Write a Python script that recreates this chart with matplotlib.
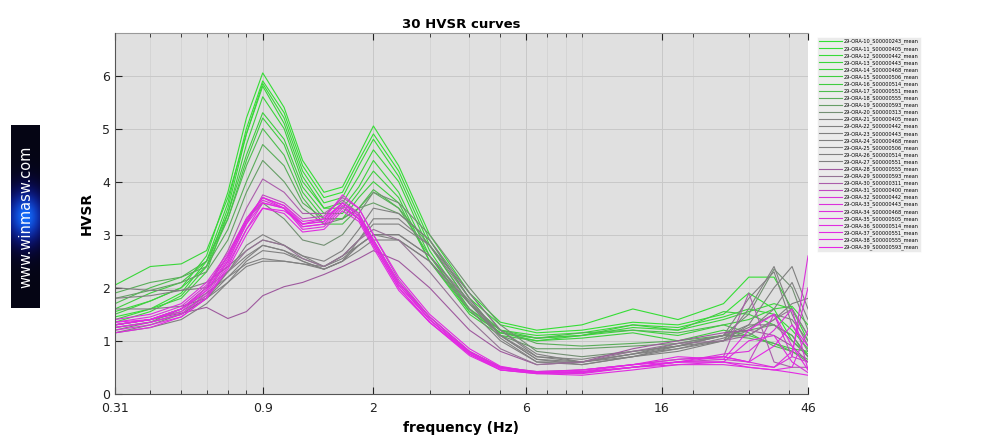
import numpy as np
import matplotlib
matplotlib.use("Agg")
import matplotlib.pyplot as plt

# frequency grid (Hz)
freq = [0.31, 0.4, 0.5, 0.6, 0.7, 0.8, 0.9, 1.05, 1.2, 1.4, 1.6, 1.8, 2.0, 2.4, 3, 4, 5, 6.5, 9, 13, 18,
        25, 30, 36, 41, 46]

# green group
g0 = [1.45, 1.6, 1.9, 2.5, 3.6, 5.0, 5.9, 5.3, 4.3, 3.7, 3.8, 4.4, 4.9, 4.2, 2.9, 1.8, 1.3, 1.15, 1.2, 1.35, 1.3, 1.5, 1.9, 1.6, 1.0, 0.75]
g1 = [1.55, 1.75, 2.0, 2.6, 3.8, 5.2, 6.05, 5.4, 4.4, 3.8, 3.9, 4.5, 5.05, 4.3, 3.0, 1.9, 1.35, 1.2, 1.3, 1.6, 1.4, 1.7, 2.2, 2.2, 1.6, 1.0]
g2 = [1.35, 1.55, 1.85, 2.4, 3.5, 4.9, 5.85, 5.2, 4.2, 3.6, 3.7, 4.3, 4.8, 4.1, 2.8, 1.7, 1.2, 1.1, 1.15, 1.3, 1.25, 1.45, 1.6, 1.5, 1.2, 0.85]
g3 = [2.05, 2.4, 2.45, 2.7, 3.7, 4.9, 5.8, 5.1, 4.1, 3.5, 3.6, 4.1, 4.6, 4.0, 2.7, 1.6, 1.15, 1.0, 1.1, 1.25, 1.2, 1.4, 1.55, 1.7, 1.6, 1.1]
g4 = [1.4, 1.6, 1.8, 2.3, 3.4, 4.7, 5.6, 5.0, 4.0, 3.5, 3.5, 3.9, 4.4, 3.8, 2.6, 1.55, 1.15, 1.05, 1.1, 1.2, 1.1, 1.3, 1.4, 1.6, 1.65, 1.3]
g5 = [1.6, 1.9, 2.1, 2.5, 3.4, 4.5, 5.3, 4.8, 3.9, 3.4, 3.4, 3.8, 4.2, 3.7, 2.5, 1.5, 1.1, 1.0, 1.05, 1.15, 1.0, 1.2, 1.1, 0.95, 0.85, 0.8]
g6 = [1.5, 1.75, 2.0, 2.4, 3.3, 4.4, 5.2, 4.7, 3.8, 3.3, 3.3, 3.7, 4.0, 3.6, 2.5, 1.55, 1.15, 1.05, 1.1, 1.3, 1.2, 1.55, 1.5, 1.3, 1.1, 0.7]
g7 = [1.7, 2.0, 2.2, 2.5, 3.3, 4.3, 5.0, 4.5, 3.7, 3.2, 3.2, 3.5, 3.85, 3.5, 2.6, 1.6, 1.2, 1.05, 1.15, 1.2, 1.15, 1.3, 1.15, 0.9, 0.8, 0.65]
g8 = [1.9, 2.1, 2.2, 2.4, 3.1, 4.0, 4.7, 4.3, 3.6, 3.3, 3.3, 3.5, 3.8, 3.5, 2.8, 1.7, 1.2, 0.95, 0.9, 0.95, 1.0, 1.1, 1.05, 0.95, 0.8, 0.6]
g9 = [1.8, 1.95, 2.1, 2.3, 2.9, 3.8, 4.4, 4.0, 3.5, 3.2, 3.3, 3.5, 3.6, 3.4, 2.9, 1.8, 1.1, 0.85, 0.85, 0.9, 0.95, 1.1, 1.2, 1.3, 1.1, 0.7]

# gray group
a10 = [1.2, 1.35, 1.6, 2.0, 2.6, 3.3, 3.6, 3.3, 2.9, 2.8, 3.0, 3.4, 3.8, 3.6, 3.0, 2.0, 1.3, 0.8, 0.7, 0.8, 0.9, 1.1, 1.5, 2.35, 2.0, 1.2]
a11 = [1.15, 1.3, 1.5, 1.8, 2.3, 2.8, 3.0, 2.8, 2.6, 2.5, 2.7, 3.1, 3.5, 3.4, 2.9, 1.9, 1.2, 0.7, 0.65, 0.8, 0.9, 1.0, 1.3, 2.0, 2.4, 1.6]
a12 = [1.8, 1.85, 1.95, 2.1, 2.4, 2.7, 2.9, 2.8, 2.6, 2.4, 2.6, 2.9, 3.2, 3.2, 2.8, 1.9, 1.2, 0.75, 0.6, 0.75, 0.85, 1.0, 1.6, 2.4, 1.5, 0.9]
a13 = [2.0, 1.95, 1.95, 2.0, 2.3, 2.6, 2.8, 2.7, 2.5, 2.35, 2.5, 2.8, 3.0, 3.0, 2.6, 1.7, 1.1, 0.7, 0.6, 0.7, 0.8, 1.0, 1.2, 1.6, 2.1, 1.4]
a14 = [1.15, 1.25, 1.4, 1.7, 2.1, 2.5, 2.7, 2.65, 2.5, 2.35, 2.5, 2.9, 3.3, 3.3, 2.8, 1.8, 1.1, 0.65, 0.55, 0.7, 0.85, 1.05, 1.25, 1.5, 1.4, 1.0]
a15 = [1.25, 1.35, 1.5, 1.8, 2.2, 2.55, 2.8, 2.7, 2.55, 2.4, 2.55, 2.8, 3.0, 2.9, 2.5, 1.6, 1.0, 0.6, 0.6, 0.75, 0.95, 1.1, 1.8, 2.3, 1.3, 0.8]
a16 = [1.3, 1.4, 1.6, 1.9, 2.2, 2.45, 2.55, 2.5, 2.45, 2.35, 2.5, 2.7, 2.9, 2.9, 2.5, 1.7, 1.05, 0.6, 0.55, 0.7, 0.9, 1.1, 1.1, 1.4, 1.7, 1.8]
a17 = [1.6, 1.6, 1.65, 1.8, 2.1, 2.4, 2.5, 2.5, 2.45, 2.4, 2.6, 2.8, 3.0, 3.0, 2.6, 1.75, 1.1, 0.65, 0.6, 0.75, 0.9, 1.1, 1.3, 1.3, 1.0, 0.7]
a18 = [1.3, 1.4, 1.52, 1.63, 1.42, 1.55, 1.85, 2.02, 2.1, 2.25, 2.4, 2.55, 2.7, 2.5, 2.0, 1.2, 0.8, 0.55, 0.6, 0.85, 1.0, 1.15, 1.2, 1.1, 0.9, 0.6]
a19 = [1.3, 1.4, 1.55, 1.85, 2.3, 2.7, 2.9, 2.8, 2.55, 2.4, 2.6, 2.9, 3.1, 2.9, 2.3, 1.4, 0.85, 0.55, 0.6, 0.8, 0.95, 1.0, 1.1, 1.4, 1.6, 1.1]

# magenta group
m20 = [1.3, 1.4, 1.6, 2.0, 2.7, 3.5, 4.05, 3.8, 3.4, 3.4, 3.65, 3.4, 2.9, 2.1, 1.45, 0.8, 0.5, 0.42, 0.45, 0.55, 0.65, 0.7, 1.9, 0.6, 0.5, 0.5]
m21 = [1.25, 1.35, 1.5, 1.9, 2.5, 3.2, 3.75, 3.6, 3.3, 3.35, 3.7, 3.5, 3.0, 2.15, 1.45, 0.8, 0.5, 0.4, 0.4, 0.5, 0.6, 0.65, 0.6, 1.5, 0.7, 0.6]
m22 = [1.35, 1.45, 1.65, 2.05, 2.6, 3.25, 3.7, 3.55, 3.2, 3.3, 3.6, 3.35, 2.85, 2.05, 1.4, 0.75, 0.48, 0.4, 0.42, 0.5, 0.6, 0.75, 0.8, 1.2, 1.6, 0.45]
m23 = [1.2, 1.3, 1.45, 1.8, 2.4, 3.1, 3.6, 3.5, 3.2, 3.25, 3.6, 3.4, 2.9, 2.1, 1.45, 0.8, 0.5, 0.4, 0.38, 0.5, 0.55, 0.6, 0.55, 0.5, 0.7, 2.6]
m24 = [1.3, 1.4, 1.55, 1.95, 2.55, 3.25, 3.65, 3.5, 3.15, 3.2, 3.55, 3.3, 2.8, 2.0, 1.35, 0.75, 0.45, 0.38, 0.4, 0.5, 0.6, 0.6, 1.0, 1.1, 0.6, 0.4]
m25 = [1.4, 1.5, 1.7, 2.1, 2.65, 3.3, 3.7, 3.5, 3.1, 3.15, 3.5, 3.3, 2.85, 2.05, 1.4, 0.78, 0.5, 0.42, 0.45, 0.55, 0.65, 0.7, 0.6, 0.5, 0.8, 2.0]
m26 = [1.25, 1.35, 1.5, 1.85, 2.45, 3.1, 3.5, 3.4, 3.05, 3.1, 3.45, 3.25, 2.75, 1.95, 1.35, 0.72, 0.45, 0.38, 0.35, 0.45, 0.55, 0.55, 0.5, 0.45, 0.5, 1.2]
m27 = [1.3, 1.4, 1.6, 2.0, 2.6, 3.3, 3.7, 3.55, 3.25, 3.3, 3.75, 3.5, 3.0, 2.2, 1.5, 0.85, 0.52, 0.4, 0.42, 0.55, 0.7, 0.65, 1.2, 1.5, 0.9, 0.45]
m28 = [1.15, 1.25, 1.45, 1.8, 2.35, 3.0, 3.5, 3.45, 3.2, 3.25, 3.6, 3.35, 2.9, 2.1, 1.4, 0.78, 0.48, 0.4, 0.4, 0.5, 0.6, 0.6, 0.5, 0.45, 0.4, 0.35]
m29 = [1.35, 1.4, 1.6, 1.95, 2.5, 3.2, 3.6, 3.5, 3.15, 3.2, 3.55, 3.3, 2.8, 2.0, 1.35, 0.75, 0.45, 0.4, 0.45, 0.55, 0.6, 0.7, 0.6, 0.9, 1.3, 0.9]

curves = [g0, g1, g2, g3, g4, g5, g6, g7, g8, g9,
          a10, a11, a12, a13, a14, a15, a16, a17, a18, a19,
          m20, m21, m22, m23, m24, m25, m26, m27, m28, m29]

station_ids = ["0243", "0405", "0442", "0443", "0468", "0506", "0514", "0551", "0555", "0593",
               "0313", "0405", "0442", "0443", "0468", "0506", "0514", "0551", "0555", "0593",
               "0311", "0400", "0442", "0443", "0468", "0505", "0514", "0551", "0555", "0593"]
labels = ["29-ORA-%d_S0000%s_mean" % (10 + i, s) for i, s in enumerate(station_ids)]

xticks = [0.31, 0.9, 2, 6, 16, 46]
xtick_labels = ["0.31", "0.9", "2", "6", "16", "46"]

# colour ramp green -> gray -> magenta (anchor index, rgb)
ramp_idx = [0, 6, 9, 11, 17, 18, 19, 22, 29]
ramp_rgb = [(0.2, 0.88, 0.2), (0.25, 0.8, 0.25), (0.4, 0.62, 0.4), (0.5, 0.5, 0.5),
            (0.5, 0.5, 0.5), (0.62, 0.35, 0.62), (0.58, 0.45, 0.58), (0.85, 0.2, 0.85),
            (0.9, 0.15, 0.9)]
def ramp(i):
    return tuple(np.interp(i, ramp_idx, [c[k] for c in ramp_rgb]) for k in range(3))

fig = plt.figure(figsize=(10, 4.42), dpi=100)
ax = fig.add_axes([0.115, 0.109, 0.693, 0.816])
ax.set_facecolor("#e0e0e0")

for i, c in enumerate(curves):
    ax.plot(freq, c, color=ramp(i), lw=0.8, label=labels[i])

ax.set_xscale("log")
ax.set_xlim(0.31, 46)
ax.set_ylim(0, 6.8)
ax.set_xticks(xticks)
ax.set_xticklabels(xtick_labels)
ax.set_yticks([0, 1, 2, 3, 4, 5, 6])
ax.grid(True, which="major", color="#c8c8c8", lw=0.7)
ax.grid(True, which="minor", axis="x", color="#d2d2d2", lw=0.6)
ax.tick_params(which="both", direction="in", top=True, right=False, labelsize=9, colors="#222222")
ax.tick_params(axis="x", pad=6)
ax.tick_params(which="minor", length=3)
ax.tick_params(which="major", length=5)
ax.xaxis.set_minor_formatter(plt.NullFormatter())
for s in ["right", "top"]:
    ax.spines[s].set_visible(False)
ax.spines["left"].set_color("#555555")
ax.spines["bottom"].set_color("#555555")
ax.plot([0, 1], [1, 1], transform=ax.transAxes, color="#999999", lw=0.8, clip_on=False)

ax.set_title("30 HVSR curves", fontsize=9.5, fontweight="bold", pad=4)
ax.set_xlabel("frequency (Hz)", fontsize=10, fontweight="bold", labelpad=4)
ax.set_ylabel("HVSR", fontsize=10, fontweight="bold", labelpad=6)

leg = ax.legend(loc="upper left", bbox_to_anchor=(1.013, 0.99), fontsize=3.6, frameon=True,
                fancybox=False, handlelength=4.5, handletextpad=0.4, labelspacing=0.28,
                borderpad=0.4, borderaxespad=0)
leg.get_frame().set_facecolor("#e6e6e6")
leg.get_frame().set_edgecolor("#ffffff")
leg.get_frame().set_linewidth(0.5)

# website logo on the left
lax = fig.add_axes([0.011, 0.303, 0.029, 0.414])
yy, xx = np.mgrid[0:1:200j, 0:1:40j]
glow = np.exp(-((yy - 0.5) / 0.15) ** 2) * np.exp(-((xx - 0.5) / 0.7) ** 2)
img = np.zeros((200, 40, 3))
img[..., 0] = 0.02 + 0.05 * glow
img[..., 1] = 0.02 + 0.4 * glow ** 2
img[..., 2] = 0.08 + 0.9 * glow
lax.imshow(np.clip(img, 0, 1), aspect="auto", extent=[0, 1, 0, 1])
lax.set_xticks([])
lax.set_yticks([])
for s in lax.spines.values():
    s.set_visible(False)
lax.text(0.5, 0.5, "www.winmasw.com", color="white", rotation=90, ha="center", va="center",
         fontsize=10.5, transform=lax.transAxes)

fig.savefig("out.png", dpi=100)
